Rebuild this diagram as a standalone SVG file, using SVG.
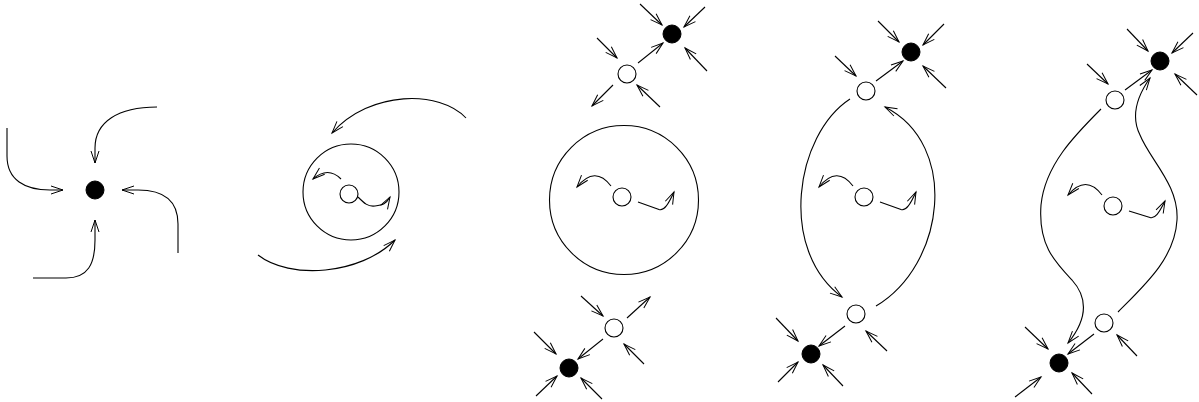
<svg xmlns="http://www.w3.org/2000/svg" width="1199" height="402" viewBox="0 0 1199 402">
<style>
.c{fill:none;stroke:#000;stroke-width:1.1}
.a{fill:none;stroke:#000;stroke-width:1.1;marker-end:url(#ah)}
.o{fill:#fff;stroke:#000;stroke-width:1.1}
.f{fill:#000;stroke:#000;stroke-width:1}
</style>
<defs>
<marker id="ah" viewBox="-14 -6 16 12" refX="0" refY="0" markerWidth="16" markerHeight="12" markerUnits="userSpaceOnUse" orient="auto" overflow="visible">
<path d="M-12,-4 L0,0 L-12,4" fill="none" stroke="#000" stroke-width="1"/>
</marker>
</defs>
<rect width="1199" height="402" fill="#fff"/>
<g id="connectors">
<!-- panel 1 -->
<path class="a" d="M157,107 C118,107 95,122 95,148 L95,163"/>
<path class="a" d="M7,128 L7,156 C7,180 25,190 50,190 L63,190"/>
<path class="a" d="M178,253 L178,224 C178,200 163,190 138,190 L122,190"/>
<path class="a" d="M33,278 L66,278 C88,278 95,264 95,240 L95,220"/>
<!-- panel 2 -->
<path class="a" d="M466,118 C440,90 370,90 332,133"/>
<path class="a" d="M258,255 C290,280 360,275 395,240"/>
<path class="a" d="M341,179 Q328,166 313,179"/>
<path class="a" d="M358,197 C364,203 368,207 375,206 C383,205 386,204 390,197"/>
<!-- panel 3 -->
<path class="a" d="M640,4 L662,25"/>
<path class="a" d="M705,7 L684,27"/>
<path class="a" d="M707,71 L685,48"/>
<path class="a" d="M638,63 L663,43"/>
<path class="a" d="M597,38 L617,58"/>
<path class="a" d="M660,107 L637,85"/>
<path class="a" d="M613,85 L592,106"/>
<path class="a" d="M611,186 Q595,165 577,187"/>
<path class="a" d="M638,202 L659,209.5 C664,211 668,205 674,192"/>
<path class="a" d="M581,296 L603,316"/>
<path class="a" d="M644,364 L624,344"/>
<path class="a" d="M627,318 L650,297"/>
<path class="a" d="M603,339 L578,359"/>
<path class="a" d="M534,332 L556,354"/>
<path class="a" d="M536,396 L557,376"/>
<path class="a" d="M602,399 L581,378"/>
<!-- panel 4 -->
<path class="a" d="M878,21 L899,42"/>
<path class="a" d="M944,24 L923,45"/>
<path class="a" d="M946,88 L923,66"/>
<path class="a" d="M876,81 L903,61"/>
<path class="a" d="M835,56 L856,76"/>
<path class="a" d="M850,99 C795,135 778,250 842,297"/>
<path class="a" d="M876,306 C945,265 960,145 885,107"/>
<path class="a" d="M853,186 Q837,165 819,187"/>
<path class="a" d="M880,202 L901,209.5 C906,211 910,205 916,192"/>
<path class="a" d="M845,326 L819,346"/>
<path class="a" d="M887,351 L866,331"/>
<path class="a" d="M776,318 L798,341"/>
<path class="a" d="M778,382 L798,362"/>
<path class="a" d="M843,386 L823,365"/>
<!-- panel 5 -->
<path class="a" d="M1127,29 L1148,51"/>
<path class="a" d="M1193,33 L1172,53"/>
<path class="a" d="M1197,95 L1175,74"/>
<path class="a" d="M1125,90 L1152,70"/>
<path class="a" d="M1087,64 L1108,84"/>
<path class="a" d="M1101,109 C1075,135 1045,165 1041,205 C1038,245 1055,262 1072,280 C1090,300 1085,322 1068,343"/>
<path class="a" d="M1118,312 C1145,285 1175,258 1177,220 C1179,185 1150,160 1140,135 C1130,115 1138,95 1150,78"/>
<path class="a" d="M1102,195 Q1086,174 1068,195"/>
<path class="a" d="M1129,211 L1150,217.5 C1155,219 1159,213 1165,201"/>
<path class="a" d="M1094,334 L1068,354"/>
<path class="a" d="M1137,356 L1117,335"/>
<path class="a" d="M1025,327 L1048,349"/>
<path class="a" d="M1015,397 L1041,377"/>
<path class="a" d="M1092,394 L1072,373"/>
</g>
<g id="p1-sink"><circle class="f" cx="95" cy="190" r="9"/></g>
<g id="p2-disk"><circle class="c" cx="351" cy="192" r="48"/></g>
<g id="p2-center"><circle class="o" cx="349" cy="194" r="9"/></g>
<g id="p3-disk"><circle class="c" cx="624" cy="200" r="74.5"/></g>
<g id="p3-center"><circle class="o" cx="622" cy="197" r="9"/></g>
<g id="p3-top-open"><circle class="o" cx="627" cy="74" r="9"/></g>
<g id="p3-top-sink"><circle class="f" cx="672" cy="34" r="9"/></g>
<g id="p3-bot-open"><circle class="o" cx="614" cy="328" r="9"/></g>
<g id="p3-bot-sink"><circle class="f" cx="569" cy="368" r="9"/></g>
<g id="p4-center"><circle class="o" cx="864" cy="197" r="9"/></g>
<g id="p4-top-open"><circle class="o" cx="866" cy="91" r="9"/></g>
<g id="p4-top-sink"><circle class="f" cx="911" cy="52" r="9"/></g>
<g id="p4-bot-open"><circle class="o" cx="856" cy="314" r="9"/></g>
<g id="p4-bot-sink"><circle class="f" cx="811" cy="354" r="9"/></g>
<g id="p5-center"><circle class="o" cx="1113" cy="206" r="9"/></g>
<g id="p5-top-open"><circle class="o" cx="1115" cy="100" r="9"/></g>
<g id="p5-top-sink"><circle class="f" cx="1160" cy="61" r="9"/></g>
<g id="p5-bot-open"><circle class="o" cx="1104" cy="323" r="9"/></g>
<g id="p5-bot-sink"><circle class="f" cx="1059" cy="363" r="9"/></g>
</svg>
